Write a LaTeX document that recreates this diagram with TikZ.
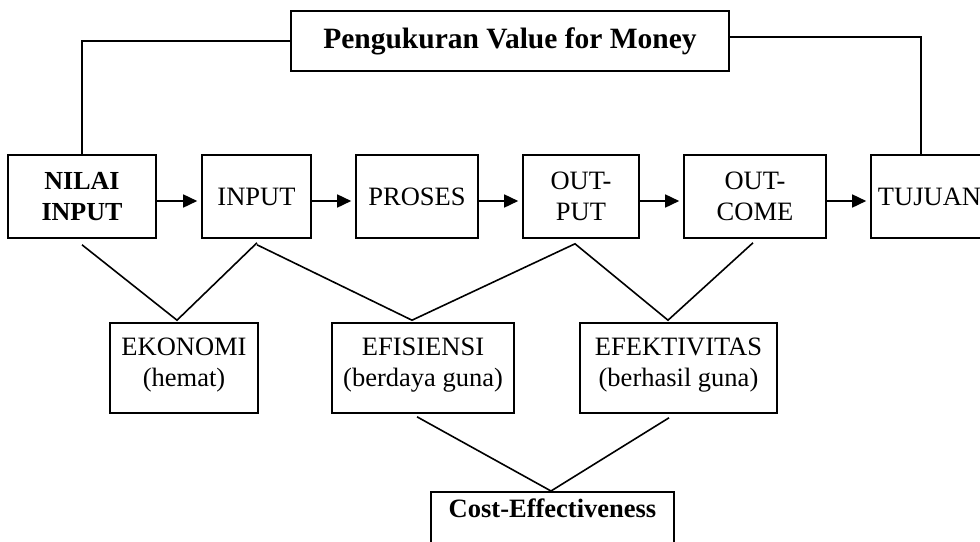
\documentclass[tikz,border=0pt]{standalone}
\usepackage{fontspec}
\setmainfont{Liberation Serif}
\usetikzlibrary{arrows.meta,calc}
\tikzset{
  box/.style={draw, line width=1.6pt, inner sep=0pt, align=center,
    font=\fontsize{26.5}{30.5}\selectfont},
  rowbox/.style={box, minimum height=83pt},
  lowbox/.style={box, minimum height=90pt},
  link/.style={line width=1.6pt},
  flow/.style={line width=1.6pt, -{Triangle[length=14pt,width=13pt]}, shorten >=4pt},
}
\newcommand{\lowtext}[1]{\smash{\raisebox{-3pt}{\begin{tabular}{@{}c@{}}#1\end{tabular}}}}
\begin{document}
\begin{tikzpicture}[x=1pt,y=-1pt]
\useasboundingbox (0,0) rectangle (980,541);
\clip (0,0) rectangle (980,541);

\node[box, minimum width=438pt, minimum height=60pt, font=\fontsize{29.5}{34}\selectfont\bfseries] (top) at (510,41) {Pengukuran Value for Money};

\node[rowbox, minimum width=148pt, font=\fontsize{26}{30.5}\selectfont\bfseries] (nilai) at (82,196.5) {NILAI\\INPUT};
\node[rowbox, minimum width=109pt] (input) at (256.5,196.5) {INPUT};
\node[rowbox, minimum width=122pt] (proses) at (417,196.5) {PROSES};
\node[rowbox, minimum width=116pt] (output) at (581,196.5) {OUT-\\PUT};
\node[rowbox, minimum width=142pt] (outcome) at (755,196.5) {OUT-\\COME};
\node[rowbox, minimum width=117pt] (tujuan) at (929.5,196.5) {TUJUAN};

\node[lowbox, minimum width=148pt] (ekonomi) at (184,368) {\lowtext{EKONOMI\\(hemat)}};
\node[lowbox, minimum width=182pt] (efisiensi) at (423,368) {\lowtext{EFISIENSI\\(berdaya guna)}};
\node[lowbox, minimum width=197pt] (efektivitas) at (678.5,368) {\lowtext{EFEKTIVITAS\\(berhasil guna)}};

\node[box, minimum width=243pt, anchor=north, inner ysep=7pt, text depth=45pt, font=\fontsize{26.5}{30.5}\selectfont\bfseries] (cost) at (552.5,491) {Cost-Effectiveness};

% top connectors
\draw[link] (top.west) -| (nilai.north);
\draw[link] ($(top.east)+(0,-4)$) -| ($(tujuan.north)+(-8.5,0)$);

% flow arrows
\draw[flow] ($(nilai.east)+(0,4.5)$) -- ($(input.west)+(0,4.5)$);
\draw[flow] ($(input.east)+(0,4.5)$) -- ($(proses.west)+(0,4.5)$);
\draw[flow] ($(proses.east)+(0,4.5)$) -- ($(output.west)+(0,4.5)$);
\draw[flow] ($(output.east)+(0,4.5)$) -- ($(outcome.west)+(0,4.5)$);
\draw[flow] ($(outcome.east)+(0,4.5)$) -- ($(tujuan.west)+(0,4.5)$);

% lower connectors
\coordinate (ekoTop) at ($(ekonomi.north)+(-7,-2)$);
\coordinate (efiTop) at ($(efisiensi.north)+(-11,-2)$);
\coordinate (efkTop) at ($(efektivitas.north)+(-10.5,-2)$);
\draw[link] ($(nilai.south)+(0,6)$) -- (ekoTop) -- ($(input.south)+(0.5,4)$);
\draw[link] ($(input.south)+(0.5,6)$) -- (efiTop) -- ($(output.south)+(-6,5)$) -- (efkTop) -- ($(outcome.south)+(-2,4)$);
\draw[link] ($(efisiensi.south)+(-6,3)$) -- ($(cost.north)+(-1.5,0)$) -- ($(efektivitas.south)+(-9.5,4)$);
\end{tikzpicture}
\end{document}
